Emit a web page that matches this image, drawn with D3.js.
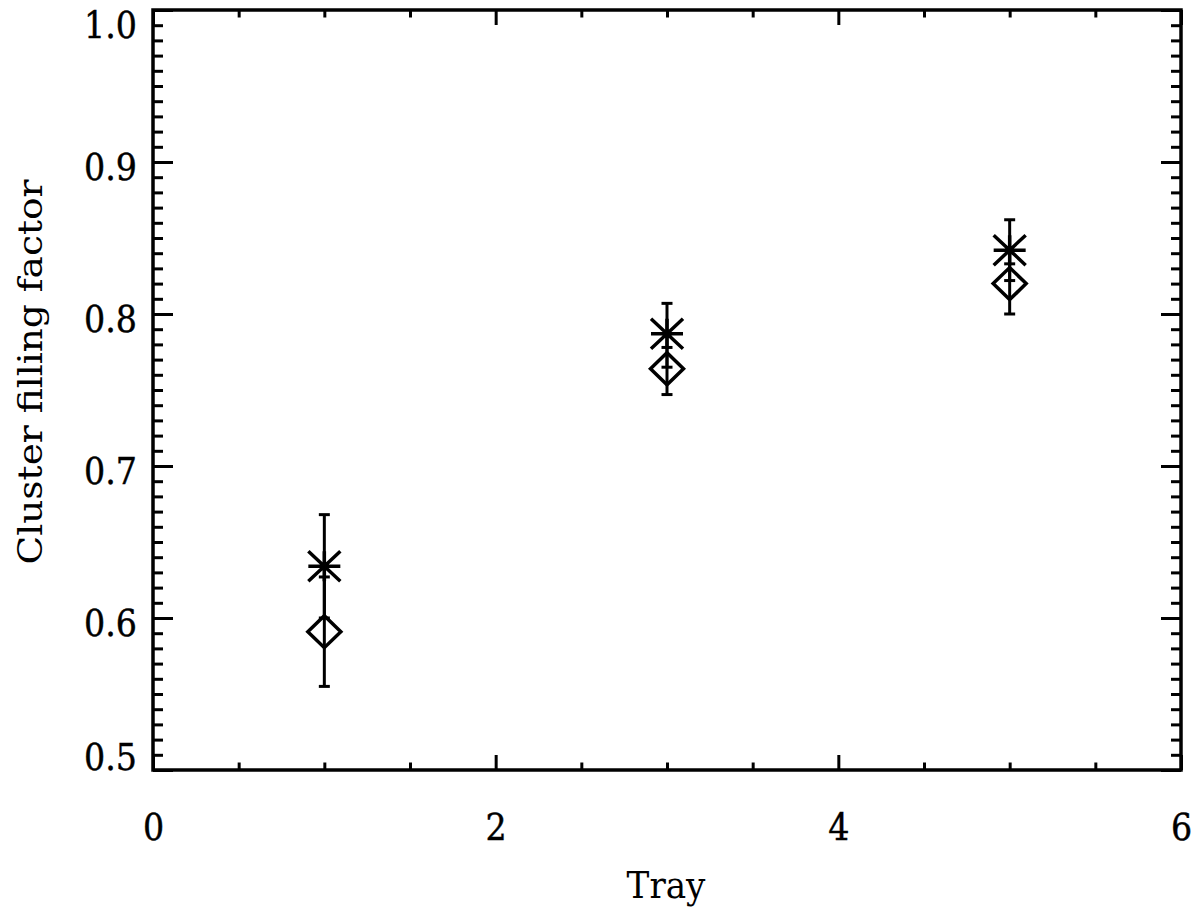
<!DOCTYPE html>
<html>
<head>
<meta charset="utf-8">
<script src="https://cdn.jsdelivr.net/npm/d3@7"></script>
<style>
  html, body { margin: 0; padding: 0; background: #fff; }
  svg text { font-family: "DejaVu Serif", serif; fill: #000; }
</style>
</head>
<body>
<svg id="chart" width="1200" height="916"></svg>
<script>
// ---- data ----
const trays = [1, 3, 5];
const asteriskValues = [0.634, 0.787, 0.842];
const asteriskLower  = [0.600, 0.765, 0.822];
const asteriskUpper  = [0.668, 0.807, 0.862];
const diamondValues  = [0.591, 0.764, 0.820];
const diamondLower   = [0.555, 0.747, 0.800];
const diamondUpper   = [0.627, 0.778, 0.833];
const xTickLabels = [0, 2, 4, 6];
const yTickLabels = [0.5, 0.6, 0.7, 0.8, 0.9, 1.0];
const xLabel = "Tray";
const yLabel = "Cluster filling factor";

// ---- layout ----
const svg = d3.select("#chart");
const L = 153, R = 1181, T = 10, B = 770;
const x = d3.scaleLinear().domain([0, 6]).range([L, R]);
const y = d3.scaleLinear().domain([0.5, 1.0]).range([B, T]);
const lw = 3;

const xMinor = d3.range(0, 6.0001, 0.5).filter(v => !xTickLabels.includes(v));
const yMinor = d3.range(50, 100.0001, 1).map(v => v / 100).filter(v => Math.round(v * 100) % 10 !== 0);

const xMajorLen = 15, xMinorLen = 7.5, yMajorLen = 20, yMinorLen = 10;

const gB = svg.append("g").attr("transform", `translate(0,${B})`)
  .call(d3.axisBottom(x).tickValues(xTickLabels).tickSize(-xMajorLen).tickFormat(d3.format("d")));
svg.append("g").attr("transform", `translate(0,${B})`)
  .call(d3.axisBottom(x).tickValues(xMinor).tickSize(-xMinorLen).tickFormat(""));
svg.append("g").attr("transform", `translate(0,${T})`)
  .call(d3.axisTop(x).tickValues(xTickLabels).tickSize(-xMajorLen).tickFormat(""));
svg.append("g").attr("transform", `translate(0,${T})`)
  .call(d3.axisTop(x).tickValues(xMinor).tickSize(-xMinorLen).tickFormat(""));
const gL = svg.append("g").attr("transform", `translate(${L},0)`)
  .call(d3.axisLeft(y).tickValues(yTickLabels).tickSize(-yMajorLen).tickFormat(d3.format(".1f")));
svg.append("g").attr("transform", `translate(${L},0)`)
  .call(d3.axisLeft(y).tickValues(yMinor).tickSize(-yMinorLen).tickFormat(""));
svg.append("g").attr("transform", `translate(${R},0)`)
  .call(d3.axisRight(y).tickValues(yTickLabels).tickSize(-yMajorLen).tickFormat(""));
svg.append("g").attr("transform", `translate(${R},0)`)
  .call(d3.axisRight(y).tickValues(yMinor).tickSize(-yMinorLen).tickFormat(""));

svg.selectAll(".domain").remove();
svg.selectAll(".tick line").attr("stroke", "#000").attr("stroke-width", lw);
svg.selectAll(".tick text").attr("font-size", 37).attr("font-family", "DejaVu Serif")
  .style("font-stretch", "condensed").attr("stroke", "#000").attr("stroke-width", 0.4);
gB.selectAll(".tick text").attr("dy", null).attr("y", 70);
// y labels: end labels kept inside the frame height like the original
gL.selectAll(".tick text").attr("dy", null).attr("x", -16)
  .attr("y", d => d === 1.0 ? 27 : (d === 0.5 ? -1 : 17));

svg.append("rect").attr("x", L).attr("y", T).attr("width", R - L).attr("height", B - T)
  .attr("fill", "none").attr("stroke", "#000").attr("stroke-width", lw + 0.5);

svg.append("text").attr("x", 666).attr("y", 898).attr("text-anchor", "middle")
  .attr("font-size", 38).style("font-stretch", "condensed").text(xLabel);
svg.append("text").attr("transform", `translate(42,${372}) rotate(-90)`).attr("text-anchor", "middle")
  .attr("font-size", 34).style("font-stretch", "condensed")
  .attr("textLength", 385).attr("lengthAdjust", "spacingAndGlyphs").text(yLabel);

const cap = 5.5;
function errBars(vals, lo, hi) {
  const g = svg.append("g").attr("stroke", "#000").attr("stroke-width", lw).attr("fill", "none");
  trays.forEach((t, i) => {
    g.append("line").attr("x1", x(t)).attr("x2", x(t)).attr("y1", y(lo[i])).attr("y2", y(hi[i]));
    g.append("line").attr("x1", x(t) - cap).attr("x2", x(t) + cap).attr("y1", y(lo[i])).attr("y2", y(lo[i]));
    g.append("line").attr("x1", x(t) - cap).attr("x2", x(t) + cap).attr("y1", y(hi[i])).attr("y2", y(hi[i]));
  });
}
errBars(asteriskValues, asteriskLower, asteriskUpper);
errBars(diamondValues, diamondLower, diamondUpper);

const ast = svg.append("g").attr("stroke", "#000").attr("stroke-width", lw + 0.5).attr("fill", "none");
trays.forEach((t, i) => {
  const cx = x(t), cy = y(asteriskValues[i]), r = 16, ry = 15;
  ast.append("path").attr("d",
    `M${cx - r},${cy}L${cx + r},${cy}M${cx},${cy - ry}L${cx},${cy + ry}` +
    `M${cx - r},${cy - ry}L${cx + r},${cy + ry}M${cx - r},${cy + ry}L${cx + r},${cy - ry}`);
});

const dia = svg.append("g").attr("stroke", "#000").attr("stroke-width", lw + 0.5).attr("fill", "none");
trays.forEach((t, i) => {
  const cx = x(t), cy = y(diamondValues[i]), rx = 16.5, ry = 16;
  dia.append("path").attr("d",
    `M${cx - rx},${cy}L${cx},${cy - ry}L${cx + rx},${cy}L${cx},${cy + ry}Z`);
});
</script>
</body>
</html>
